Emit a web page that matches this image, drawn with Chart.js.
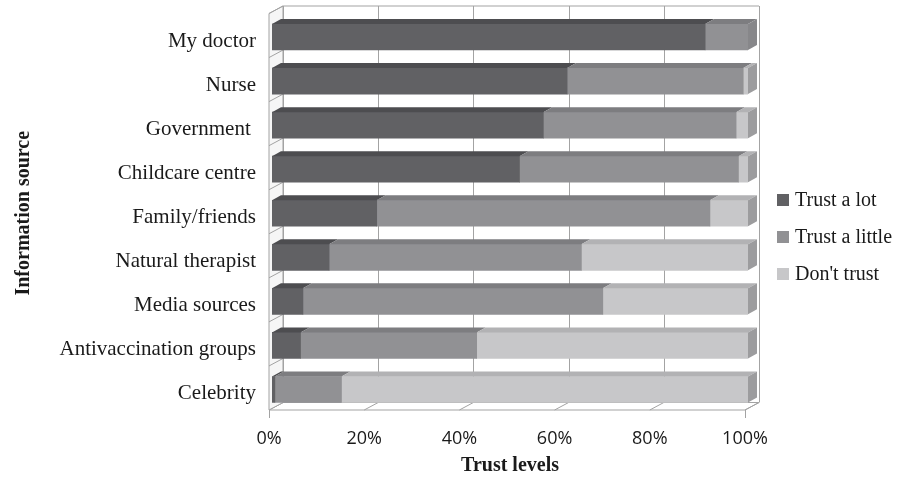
<!DOCTYPE html>
<html>
<head>
<meta charset="utf-8">
<script src="https://cdn.jsdelivr.net/npm/chart.js@4.4.1/dist/chart.umd.min.js"></script>
<style>
  html, body { margin: 0; padding: 0; background: #fff; }
</style>
</head>
<body>
<canvas id="trustChart" width="909" height="478"></canvas>
<script>
// data (percent of respondents)
const sources = ['My doctor', 'Nurse', 'Government ', 'Childcare centre', 'Family/friends',
    'Natural therapist', 'Media sources', 'Antivaccination groups', 'Celebrity'];
const trustALot    = [91, 62, 57,   52, 22, 12, 6.5,  6, 0.6];
const trustALittle = [ 9, 37, 40.5, 46, 70, 53, 63,  37, 14];
const dontTrust    = [ 0,  1,  2.5,  2,  8, 35, 30.5, 57, 85.4];
const seriesNames = ['Trust a lot', 'Trust a little', "Don't trust"];
const xTickValues = [0, 20, 40, 60, 80, 100];
const xTickLabels = ['0%', '20%', '40%', '60%', '80%', '100%'];

// shading for the fake 3D boxes
const frontColors = ['#616164', '#919194', '#c7c7c9'];
const topColors   = ['#4d4d50', '#7d7d80', '#b2b2b4'];
const sideColors  = ['#58585b', '#87878a', '#9c9c9e'];

const depth = { dx: 9, dy: -5 };      // bar depth
const wall  = { dx: 11, dy: -9 };     // back wall relative to bar front
const floorFront = { dx: -3, dy: -1.5 };

const serif = "'Liberation Serif', 'Times New Roman', serif";
const ink = '#1a1a1a';

const box3d = {
    id: 'box3d',
    beforeDatasetsDraw(chart) {
        const { ctx, chartArea: a, scales: { x, y } } = chart;
        const fl = v => x.getPixelForValue(v) + floorFront.dx;
        const bk = v => x.getPixelForValue(v) + wall.dx;
        const yFront = a.bottom + floorFront.dy;
        const yBack = a.bottom + wall.dy;
        const wallTop = a.top + wall.dy;
        ctx.save();
        ctx.lineWidth = 1;
        ctx.strokeStyle = '#a3a3a3';

        // floor
        ctx.fillStyle = '#ffffff';
        ctx.beginPath();
        ctx.moveTo(fl(0), yFront);
        ctx.lineTo(fl(100), yFront);
        ctx.lineTo(bk(100), yBack);
        ctx.lineTo(bk(0), yBack);
        ctx.closePath();
        ctx.fill();
        ctx.stroke();
        xTickValues.forEach(v => {
            ctx.beginPath();
            ctx.moveTo(fl(v), yFront);
            ctx.lineTo(bk(v), yBack);
            ctx.stroke();
        });
        [0, 100].forEach(v => {
            ctx.beginPath();
            ctx.moveTo(Math.round(fl(v)) + 0.5, yFront);
            ctx.lineTo(Math.round(fl(v)) + 0.5, yFront + 8);
            ctx.stroke();
        });

        // left side wall
        ctx.fillStyle = '#f6f6f6';
        ctx.beginPath();
        ctx.moveTo(fl(0), a.top + floorFront.dy);
        ctx.lineTo(bk(0), wallTop);
        ctx.lineTo(bk(0), yBack);
        ctx.lineTo(fl(0), yFront);
        ctx.closePath();
        ctx.fill();
        ctx.stroke();
        const step = y.getPixelForValue(1) - y.getPixelForValue(0);
        for (let i = 0; i < sources.length; i++) {
            const b = y.getPixelForValue(i) - step / 2;
            ctx.beginPath();
            ctx.moveTo(fl(0), b + floorFront.dy);
            ctx.lineTo(bk(0), b + wall.dy);
            ctx.stroke();
        }

        // back wall grid
        ctx.beginPath();
        ctx.moveTo(bk(0), wallTop);
        ctx.lineTo(bk(100), wallTop);
        ctx.stroke();
        xTickValues.forEach(v => {
            ctx.beginPath();
            ctx.moveTo(Math.round(bk(v)) + 0.5, wallTop);
            ctx.lineTo(Math.round(bk(v)) + 0.5, yBack);
            ctx.stroke();
        });
        ctx.restore();
    },
    afterDatasetsDraw(chart) {
        const { ctx } = chart;
        ctx.save();
        for (let i = 0; i < sources.length; i++) {
            let last = null;
            chart.data.datasets.forEach((ds, d) => {
                const el = chart.getDatasetMeta(d).data[i];
                const { x, y, base, height } = el.getProps(['x', 'y', 'base', 'height'], true);
                if (x - base < 0.5) return;
                const top = y - height / 2;
                ctx.fillStyle = topColors[d];
                ctx.beginPath();
                ctx.moveTo(base, top);
                ctx.lineTo(base + depth.dx, top + depth.dy);
                ctx.lineTo(x + depth.dx, top + depth.dy);
                ctx.lineTo(x, top);
                ctx.closePath();
                ctx.fill();
                last = { d, x, top, bottom: top + height };
            });
            if (last) {
                ctx.fillStyle = sideColors[last.d];
                ctx.beginPath();
                ctx.moveTo(last.x, last.top);
                ctx.lineTo(last.x + depth.dx, last.top + depth.dy);
                ctx.lineTo(last.x + depth.dx, last.bottom + depth.dy);
                ctx.lineTo(last.x, last.bottom);
                ctx.closePath();
                ctx.fill();
            }
        }
        ctx.restore();
    },
    afterDraw(chart) {
        // legend to the right of the plot
        const { ctx } = chart;
        ctx.save();
        ctx.font = '20px ' + serif;
        ctx.textBaseline = 'middle';
        ctx.textAlign = 'left';
        chart.data.datasets.forEach((ds, d) => {
            const cy = 200 + d * 37;
            ctx.fillStyle = ds.backgroundColor;
            ctx.fillRect(777, cy - 6, 12, 12);
            ctx.fillStyle = ink;
            ctx.fillText(ds.label, 795, cy + 1);
        });
        ctx.restore();
    }
};

const ctx = document.getElementById('trustChart').getContext('2d');
new Chart(ctx, {
    type: 'bar',
    data: {
        labels: sources,
        datasets: [
            { label: seriesNames[0], data: trustALot, backgroundColor: frontColors[0] },
            { label: seriesNames[1], data: trustALittle, backgroundColor: frontColors[1] },
            { label: seriesNames[2], data: dontTrust, backgroundColor: frontColors[2] }
        ]
    },
    options: {
        indexAxis: 'y',
        responsive: false,
        animation: false,
        barThickness: 26,
        borderWidth: 0,
        layout: { padding: { top: 15, right: 161, bottom: 0, left: 0 } },
        plugins: {
            legend: { display: false },
            tooltip: { enabled: false }
        },
        scales: {
            x: {
                stacked: true,
                min: 0,
                max: 100,
                grid: { display: false, drawTicks: false },
                border: { display: false },
                afterBuildTicks: scale => { scale.ticks = xTickValues.map(v => ({ value: v })); },
                afterFit: scale => { scale.height = 66.5; },
                ticks: {
                    padding: 17,
                    labelOffset: -3,
                    color: ink,
                    font: { family: "'Open Sans', sans-serif", size: 18 },
                    callback: (v, i) => xTickLabels[i]
                },
                title: {
                    display: true,
                    text: 'Trust levels',
                    color: ink,
                    font: { family: serif, size: 20, weight: 'bold' },
                    padding: { top: 6, bottom: 0 }
                }
            },
            y: {
                stacked: true,
                grid: { display: false, drawTicks: false },
                border: { display: false },
                afterFit: scale => {
                    scale.width = 272;
                    scale.paddingTop = 0;
                    scale.paddingBottom = 0;
                },
                ticks: {
                    padding: 16,
                    labelOffset: 4,
                    color: ink,
                    font: { family: serif, size: 21 }
                },
                title: {
                    display: true,
                    text: 'Information source',
                    color: ink,
                    font: { family: serif, size: 20, weight: 'bold' },
                    padding: { top: 12, bottom: 0 }
                }
            }
        }
    },
    plugins: [box3d]
});
</script>
</body>
</html>
